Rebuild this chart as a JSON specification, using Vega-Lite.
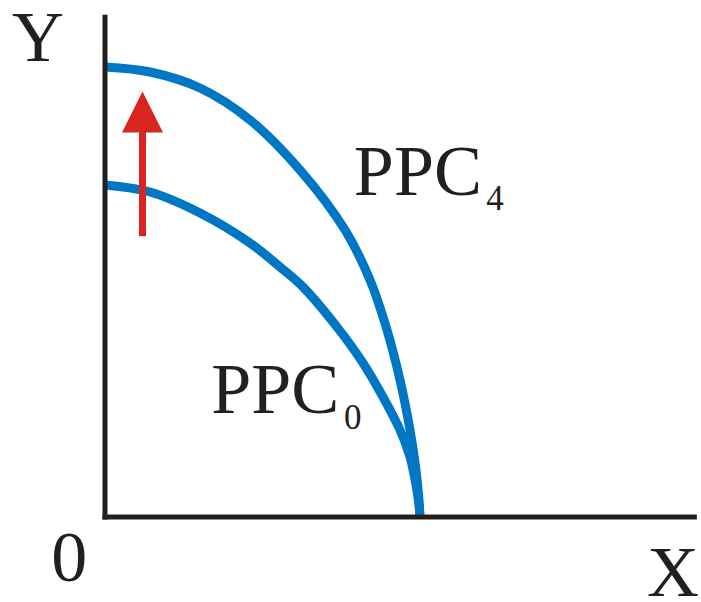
{
  "$schema": "https://vega.github.io/schema/vega-lite/v6.json",
  "width": 701,
  "height": 602,
  "padding": 0,
  "autosize": "none",
  "background": "white",
  "config": {"view": {"stroke": null}, "text": {"font": "Liberation Serif"}},
  "datasets": {
    "curves": [
      {"series": "PPC4", "x": 0, "y": 100},
      {"series": "PPC4", "x": 14.29, "y": 98.89},
      {"series": "PPC4", "x": 30.16, "y": 95.33},
      {"series": "PPC4", "x": 46.03, "y": 88.22},
      {"series": "PPC4", "x": 61.9, "y": 77.11},
      {"series": "PPC4", "x": 76.19, "y": 63.78},
      {"series": "PPC4", "x": 84.13, "y": 52.67},
      {"series": "PPC4", "x": 89.52, "y": 41.56},
      {"series": "PPC4", "x": 93.65, "y": 30.44},
      {"series": "PPC4", "x": 96.83, "y": 19.33},
      {"series": "PPC4", "x": 98.73, "y": 10.44},
      {"series": "PPC4", "x": 99.68, "y": 3.78},
      {"series": "PPC4", "x": 100, "y": 0},
      {"series": "PPC0", "x": 0, "y": 73.78},
      {"series": "PPC0", "x": 14.29, "y": 72.22},
      {"series": "PPC0", "x": 30.16, "y": 67.56},
      {"series": "PPC0", "x": 46.03, "y": 60.89},
      {"series": "PPC0", "x": 55.56, "y": 55.56},
      {"series": "PPC0", "x": 62.86, "y": 51.11},
      {"series": "PPC0", "x": 73.65, "y": 42.22},
      {"series": "PPC0", "x": 81.9, "y": 34.22},
      {"series": "PPC0", "x": 88.25, "y": 26.67},
      {"series": "PPC0", "x": 93.65, "y": 19.33},
      {"series": "PPC0", "x": 96.83, "y": 13.33},
      {"series": "PPC0", "x": 98.73, "y": 7.11},
      {"series": "PPC0", "x": 99.68, "y": 2.67},
      {"series": "PPC0", "x": 100, "y": 0}
    ],
    "axes": [
      {"x": -0.8, "y": 0, "x2": 187.9, "y2": 0},
      {"x": 0, "y": -0.56, "x2": 0, "y2": 111.6}
    ],
    "shaft": [{"x": 11.9, "y": 62.4, "y2": 86}],
    "head": [{"x": 11.9, "y": 90.0}],
    "labels": [
      {"t": "Y", "x": -29.5, "y": 101.3},
      {"t": "0", "x": -17.1, "y": -14.2},
      {"t": "X", "x": 172.1, "y": -17.6},
      {"t": "PPC", "x": 79.0, "y": 71.6},
      {"t": "PPC", "x": 33.7, "y": 23.1}
    ],
    "subs": [
      {"t": "4", "x": 121.0, "y": 68.2},
      {"t": "0", "x": 75.9, "y": 19.6}
    ]
  },
  "layer": [
    {
      "data": {"name": "curves"},
      "mark": {"type": "line", "interpolate": "catmull-rom", "color": "#0077c4", "strokeWidth": 9, "strokeCap": "butt"},
      "encoding": {
        "x": {"field": "x", "type": "quantitative", "scale": {"domain": [-33.333, 189.206], "nice": false, "zero": false}, "axis": null},
        "y": {"field": "y", "type": "quantitative", "scale": {"domain": [-18.889, 114.889], "nice": false, "zero": false}, "axis": null},
        "detail": {"field": "series"}
      }
    },
    {
      "data": {"name": "axes"},
      "mark": {"type": "rule", "color": "#231f20", "strokeWidth": 5, "strokeCap": "butt"},
      "encoding": {
        "x": {"field": "x", "type": "quantitative", "scale": {"domain": [-33.333, 189.206], "nice": false, "zero": false}, "axis": null},
        "y": {"field": "y", "type": "quantitative", "scale": {"domain": [-18.889, 114.889], "nice": false, "zero": false}, "axis": null},
        "x2": {"field": "x2"},
        "y2": {"field": "y2"}
      }
    },
    {
      "data": {"name": "shaft"},
      "mark": {"type": "rule", "color": "#d92520", "strokeWidth": 7, "strokeCap": "butt"},
      "encoding": {
        "x": {"field": "x", "type": "quantitative", "scale": {"domain": [-33.333, 189.206], "nice": false, "zero": false}, "axis": null},
        "y": {"field": "y", "type": "quantitative", "scale": {"domain": [-18.889, 114.889], "nice": false, "zero": false}, "axis": null},
        "y2": {"field": "y2"}
      }
    },
    {
      "data": {"name": "head"},
      "mark": {"type": "point", "shape": "M0,-1L1,1L-1,1Z", "size": 1681, "filled": true, "color": "#d92520", "opacity": 1, "strokeWidth": 0},
      "encoding": {
        "x": {"field": "x", "type": "quantitative", "scale": {"domain": [-33.333, 189.206], "nice": false, "zero": false}, "axis": null},
        "y": {"field": "y", "type": "quantitative", "scale": {"domain": [-18.889, 114.889], "nice": false, "zero": false}, "axis": null}
      }
    },
    {
      "data": {"name": "labels"},
      "mark": {"type": "text", "fontSize": 72, "align": "left", "baseline": "alphabetic", "color": "#231f20", "font": "Liberation Serif"},
      "encoding": {
        "x": {"field": "x", "type": "quantitative", "scale": {"domain": [-33.333, 189.206], "nice": false, "zero": false}, "axis": null},
        "y": {"field": "y", "type": "quantitative", "scale": {"domain": [-18.889, 114.889], "nice": false, "zero": false}, "axis": null},
        "text": {"field": "t"}
      }
    },
    {
      "data": {"name": "subs"},
      "mark": {"type": "text", "fontSize": 35, "align": "left", "baseline": "alphabetic", "color": "#231f20", "font": "Liberation Serif"},
      "encoding": {
        "x": {"field": "x", "type": "quantitative", "scale": {"domain": [-33.333, 189.206], "nice": false, "zero": false}, "axis": null},
        "y": {"field": "y", "type": "quantitative", "scale": {"domain": [-18.889, 114.889], "nice": false, "zero": false}, "axis": null},
        "text": {"field": "t"}
      }
    }
  ]
}
